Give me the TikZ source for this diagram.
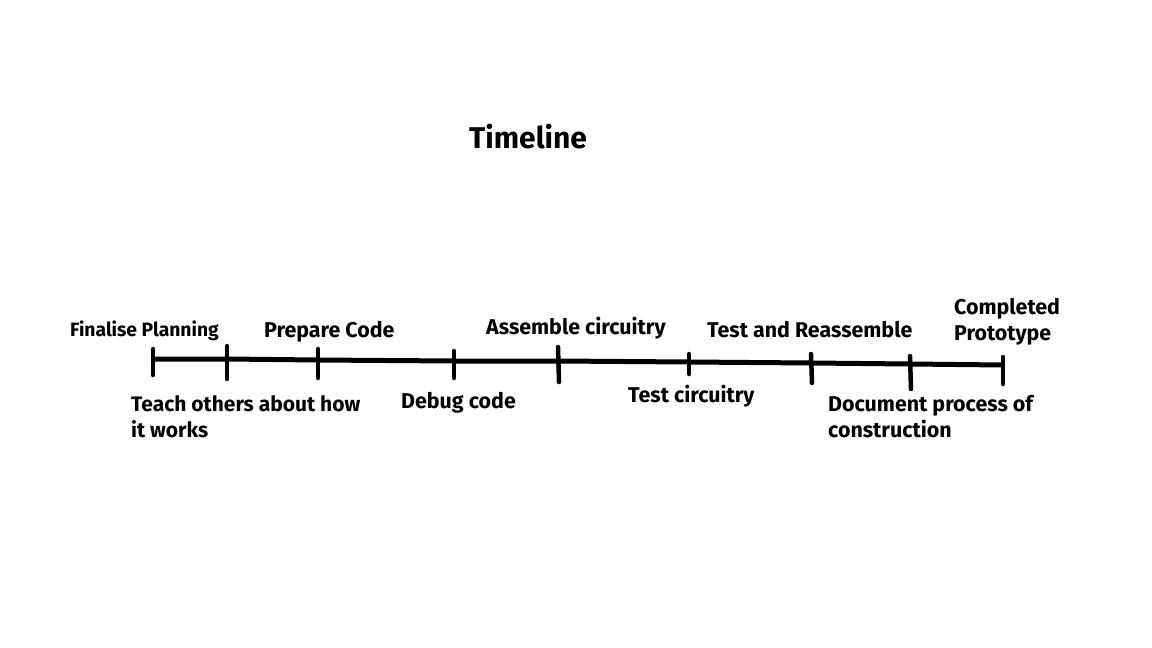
\documentclass[tikz,border=0pt]{standalone}
\usepackage{fontspec}
\setmainfont{Fira Sans}
\begin{document}
\begin{tikzpicture}[x=1pt,y=-1pt,
  lbl/.style={anchor=base west,inner sep=0pt,font=\bfseries\fontsize{21.4}{25.5}\selectfont,align=left},
  tl/.style={line width=5pt,line join=round},
  tick/.style={line width=4.5pt,line cap=round}]
\useasboundingbox (0,0) rectangle (1152,648);
% timeline points
\coordinate (p1) at (153,359);
\coordinate (p2) at (227,359);
\coordinate (p3) at (318,360);
\coordinate (p4) at (454,361);
\coordinate (p5) at (558,361);
\coordinate (p6) at (689,362);
\coordinate (p7) at (812,363);
\coordinate (p8) at (910,364);
\coordinate (p9) at (1003,365);
\draw[tl] (p1) -- (p2) -- (p3) -- (p4) -- (p5) -- (p6) -- (p7) -- (p8) -- (p9);
% ticks
\coordinate (t1a) at (153,349); \coordinate (t1b) at (153,375);
\coordinate (t2a) at (227,346); \coordinate (t2b) at (227,379);
\coordinate (t3a) at (318,349); \coordinate (t3b) at (318,378);
\coordinate (t4a) at (454,351); \coordinate (t4b) at (454,378);
\coordinate (t5a) at (558,347); \coordinate (t5b) at (559,382);
\coordinate (t6a) at (689,354); \coordinate (t6b) at (689,374);
\coordinate (t7a) at (811,354); \coordinate (t7b) at (812,383);
\coordinate (t8a) at (910,356); \coordinate (t8b) at (911,389);
\coordinate (t9a) at (1003,357); \coordinate (t9b) at (1003,384);
\foreach \i in {1,...,9} \draw[tick] (t\i a) -- (t\i b);
% title
\node[anchor=base west,inner sep=0pt,font=\bfseries\fontsize{30}{36}\selectfont] (title) at (469,148) {Timeline};
% labels
\node[lbl,font=\bfseries\fontsize{19.3}{24}\selectfont] (l1) at (70,336) {Finalise Planning};
\node[lbl,font=\bfseries\fontsize{21}{25.5}\selectfont] (l2) at (131,437) {Teach others about how\\it works};
\node[lbl] (l3) at (264,337) {Prepare Code};
\node[lbl] (l4) at (401,408) {Debug code};
\node[lbl] (l5) at (486,334) {Assemble circuitry};
\node[lbl] (l6) at (628,402) {Test circuitry};
\node[lbl] (l7) at (707,337) {Test and Reassemble};
\node[lbl] (l8) at (828,437) {Document process of\\construction};
\node[lbl] (l9) at (954,340) {Completed\\Prototype};
\end{tikzpicture}
\end{document}
